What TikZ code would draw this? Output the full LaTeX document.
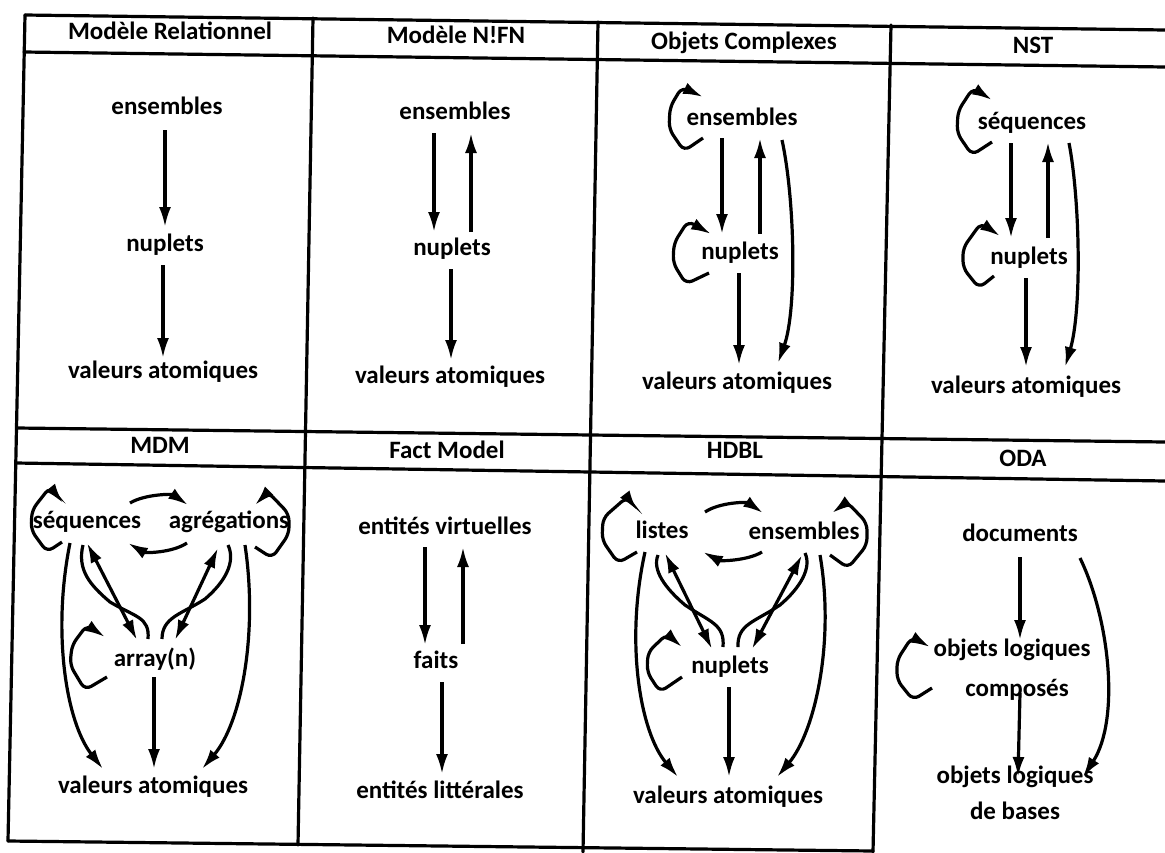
\documentclass[tikz,border=0pt]{standalone}
\usepackage{fontspec}
\setmainfont{Carlito}
\usetikzlibrary{arrows.meta}
\begin{document}
\begin{tikzpicture}[x=1pt,y=-1pt,
  >={Latex[length=20pt,width=12pt]},
  lbl/.style={font=\fontsize{25}{30}\selectfont\bfseries, inner sep=0pt, text height=18pt, text depth=6pt},
  arr/.style={line width=3.2pt,->},
  darr/.style={line width=3.2pt,<->},
  lnk/.style={line width=3.2pt},
  rule/.style={line width=3.2pt, line cap=round},
  lp/.style={line width=3.2pt,->,rounded corners=7pt}]
\useasboundingbox (0,0) rectangle (1165,852);
% grid
\draw[rule] (25,15) -- (1165,30);
\draw[rule] (24,52) -- (1165,67);
\draw[rule] (17,428) -- (1165,442);
\draw[rule] (16,463) -- (1165,481);
\draw[rule] (8,841) -- (873,851);
\draw[rule] (25,15) -- (8,841);
\draw[rule] (313,18) -- (298,845);
\draw[rule] (598,22) -- (583,852);
\draw[rule] (891,25) -- (873,852);
% headers
\node[lbl] (h1) at (170,33) {Modèle Relationnel};
\node[lbl] (h2) at (456,37) {Modèle N!FN};
\node[lbl] (h3) at (744,43) {Objets Complexes};
\node[lbl] (h4) at (1033,47) {NST};
\node[lbl] (h5) at (160,447) {MDM};
\node[lbl] (h6) at (447,452) {Fact Model};
\node[lbl] (h7) at (735,452) {HDBL};
\node[lbl] (h8) at (1023,460) {ODA};
% panel 1
\node[lbl] (p1e) at (167,108) {ensembles};
\node[lbl] (p1n) at (165,245) {nuplets};
\node[lbl] (p1v) at (163,372) {valeurs atomiques};
\draw[arr] ([shift={(-2,22)}]p1e.center) -- ([shift={(0,-18)}]p1n.center);
\draw[arr] ([shift={(-2,20)}]p1n.center) -- ([shift={(0,-14)}]p1v.center);
% panel 2
\node[lbl] (p2e) at (455,113) {ensembles};
\node[lbl] (p2n) at (452,249) {nuplets};
\node[lbl] (p2v) at (450,377) {valeurs atomiques};
\draw[arr] ([shift={(-21,20)}]p2e.center) -- ([shift={(-18,-17)}]p2n.center);
\draw[arr] ([shift={(19,-17)}]p2n.center) -- ([shift={(16,20)}]p2e.center);
\draw[arr] ([shift={(-1,20)}]p2n.center) -- ([shift={(1,-17)}]p2v.center);
% panel 3
\node[lbl] (p3e) at (742,119) {ensembles};
\node[lbl] (p3n) at (740,253) {nuplets};
\node[lbl] (p3v) at (737,383) {valeurs atomiques};
\draw[lp] ([shift={(-39,19)}]p3e.center) -- ([shift={(-58,32)}]p3e.center) -- ([shift={(-73,10)}]p3e.center) -- ([shift={(-72,-12)}]p3e.center) -- ([shift={(-60,-32)}]p3e.center) -- ([shift={(-39,-22)}]p3e.center);
\draw[arr] ([shift={(-20,19)}]p3e.center) -- ([shift={(-18,-19)}]p3n.center);
\draw[arr] ([shift={(20,-19)}]p3n.center) -- ([shift={(18,19)}]p3e.center);
\draw[arr] ([shift={(40,21)}]p3e.center) .. controls ([shift={(53,81)}]p3e.center) and ([shift={(55,191)}]p3e.center) .. ([shift={(41,-20)}]p3v.center);
\draw[arr] ([shift={(-1,20)}]p3n.center) -- ([shift={(2,-18)}]p3v.center);
\draw[lp] ([shift={(-31,20)}]p3n.center) -- ([shift={(-54,31)}]p3n.center) -- ([shift={(-67,10)}]p3n.center) -- ([shift={(-66,-10)}]p3n.center) -- ([shift={(-52,-32)}]p3n.center) -- ([shift={(-29,-19)}]p3n.center);
% panel 4
\node[lbl] (p4s) at (1032,123) {séquences};
\node[lbl] (p4n) at (1029,258) {nuplets};
\node[lbl] (p4v) at (1026,387) {valeurs atomiques};
\draw[lp] ([shift={(-40,19)}]p4s.center) -- ([shift={(-60,32)}]p4s.center) -- ([shift={(-75,10)}]p4s.center) -- ([shift={(-74,-12)}]p4s.center) -- ([shift={(-59,-35)}]p4s.center) -- ([shift={(-40,-23)}]p4s.center);
\draw[arr] ([shift={(-21,20)}]p4s.center) -- ([shift={(-18,-20)}]p4n.center);
\draw[arr] ([shift={(19,-20)}]p4n.center) -- ([shift={(16,19)}]p4s.center);
\draw[arr] ([shift={(37,20)}]p4s.center) .. controls ([shift={(48,77)}]p4s.center) and ([shift={(50,187)}]p4s.center) .. ([shift={(39,-20)}]p4v.center);
\draw[arr] ([shift={(-3,20)}]p4n.center) -- ([shift={(0,-20)}]p4v.center);
\draw[lp] ([shift={(-35,18)}]p4n.center) -- ([shift={(-50,30)}]p4n.center) -- ([shift={(-66,10)}]p4n.center) -- ([shift={(-66,-10)}]p4n.center) -- ([shift={(-48,-35)}]p4n.center) -- ([shift={(-29,-22)}]p4n.center);
% panel 5 MDM
\node[lbl] (p5s) at (87,522) {séquences};
\node[lbl] (p5a) at (229,522) {agrégations};
\node[lbl] (p5r) at (155,660) {array(n)};
\node[lbl] (p5v) at (153,787) {valeurs atomiques};
\draw[lp] ([shift={(-25,20)}]p5s.center) -- ([shift={(-40,30)}]p5s.center) -- ([shift={(-56,8)}]p5s.center) -- ([shift={(-55,-12)}]p5s.center) -- ([shift={(-37,-35)}]p5s.center) -- ([shift={(-24,-19)}]p5s.center);
\draw[lp] ([shift={(26,25)}]p5a.center) -- ([shift={(43,36)}]p5a.center) -- ([shift={(60,12)}]p5a.center) -- ([shift={(60,-8)}]p5a.center) -- ([shift={(39,-30)}]p5a.center) -- ([shift={(26,-17)}]p5a.center);
\draw[arr] ([shift={(43,-19)}]p5s.center) .. controls ([shift={(58,-28)}]p5s.center) and ([shift={(-57,-28)}]p5a.center) .. ([shift={(-41,-17)}]p5a.center);
\draw[arr] ([shift={(-42,21)}]p5a.center) .. controls ([shift={(-57,31)}]p5a.center) and ([shift={(58,31)}]p5s.center) .. ([shift={(41,21)}]p5s.center);
\draw[darr] ([shift={(0,21)}]p5s.center) -- ([shift={(-18,-20)}]p5r.center);
\draw[lnk] ([shift={(-4,23)}]p5s.center) .. controls ([shift={(-10,48)}]p5s.center) and ([shift={(3,63)}]p5s.center) .. ([shift={(-45,-58)}]p5r.center) .. controls ([shift={(-20,-43)}]p5r.center) and ([shift={(-5,-43)}]p5r.center) .. ([shift={(-7,-21)}]p5r.center);
\draw[darr] ([shift={(-11,26)}]p5a.center) -- ([shift={(20,-20)}]p5r.center);
\draw[lnk] ([shift={(-1,23)}]p5a.center) .. controls ([shift={(7,40)}]p5a.center) and ([shift={(-4,60)}]p5a.center) .. ([shift={(50,-61)}]p5r.center) .. controls ([shift={(27,-46)}]p5r.center) and ([shift={(7,-43)}]p5r.center) .. ([shift={(7,-21)}]p5r.center);
\draw[lp] ([shift={(-48,17)}]p5r.center) -- ([shift={(-70,30)}]p5r.center) -- ([shift={(-85,5)}]p5r.center) -- ([shift={(-83,-15)}]p5r.center) -- ([shift={(-68,-35)}]p5r.center) -- ([shift={(-50,-23)}]p5r.center);
\draw[arr] ([shift={(-17,21)}]p5s.center) .. controls ([shift={(-101,-155)}]p5v.center) and ([shift={(-87,-65)}]p5v.center) .. ([shift={(-50,-18)}]p5v.center);
\draw[arr] ([shift={(16,23)}]p5a.center) .. controls ([shift={(105,-155)}]p5v.center) and ([shift={(89,-65)}]p5v.center) .. ([shift={(49,-18)}]p5v.center);
\draw[arr] ([shift={(-1,17)}]p5r.center) -- ([shift={(1,-18)}]p5v.center);
% panel 6 Fact Model
\node[lbl] (p6e) at (445,528) {entités virtuelles};
\node[lbl] (p6f) at (436,662) {faits};
\node[lbl] (p6l) at (440,792) {entités littérales};
\draw[arr] ([shift={(-20,19)}]p6e.center) -- ([shift={(-11,-17)}]p6f.center);
\draw[arr] ([shift={(27,-18)}]p6f.center) -- ([shift={(18,19)}]p6e.center);
\draw[arr] ([shift={(6,20)}]p6f.center) -- ([shift={(2,-18)}]p6l.center);
% panel 7 HDBL
\node[lbl] (p7l) at (662,532) {listes};
\node[lbl] (p7e) at (804,533) {ensembles};
\node[lbl] (p7n) at (730,667) {nuplets};
\node[lbl] (p7v) at (728,797) {valeurs atomiques};
\draw[lp] ([shift={(-25,20)}]p7l.center) -- ([shift={(-44,31)}]p7l.center) -- ([shift={(-60,8)}]p7l.center) -- ([shift={(-59,-14)}]p7l.center) -- ([shift={(-35,-35)}]p7l.center) -- ([shift={(-25,-22)}]p7l.center);
\draw[lp] ([shift={(26,22)}]p7e.center) -- ([shift={(44,35)}]p7e.center) -- ([shift={(63,12)}]p7e.center) -- ([shift={(63,-10)}]p7e.center) -- ([shift={(43,-31)}]p7e.center) -- ([shift={(28,-20)}]p7e.center);
\draw[arr] ([shift={(43,-20)}]p7l.center) .. controls ([shift={(58,-30)}]p7l.center) and ([shift={(-57,-31)}]p7e.center) .. ([shift={(-41,-20)}]p7e.center);
\draw[arr] ([shift={(-42,19)}]p7e.center) .. controls ([shift={(-57,28)}]p7e.center) and ([shift={(58,29)}]p7l.center) .. ([shift={(41,20)}]p7l.center);
\draw[darr] ([shift={(3,21)}]p7l.center) -- ([shift={(-18,-18)}]p7n.center);
\draw[lnk] ([shift={(-4,23)}]p7l.center) .. controls ([shift={(-10,38)}]p7l.center) and ([shift={(3,56)}]p7l.center) .. ([shift={(-45,-62)}]p7n.center) .. controls ([shift={(-20,-45)}]p7n.center) and ([shift={(-5,-43)}]p7n.center) .. ([shift={(-7,-20)}]p7n.center);
\draw[darr] ([shift={(-2,22)}]p7e.center) -- ([shift={(22,-18)}]p7n.center);
\draw[lnk] ([shift={(1,20)}]p7e.center) .. controls ([shift={(8,35)}]p7e.center) and ([shift={(-4,55)}]p7e.center) .. ([shift={(50,-62)}]p7n.center) .. controls ([shift={(25,-45)}]p7n.center) and ([shift={(7,-43)}]p7n.center) .. ([shift={(8,-20)}]p7n.center);
\draw[lp] ([shift={(-48,10)}]p7n.center) -- ([shift={(-70,25)}]p7n.center) -- ([shift={(-83,5)}]p7n.center) -- ([shift={(-82,-15)}]p7n.center) -- ([shift={(-63,-33)}]p7n.center) -- ([shift={(-48,-20)}]p7n.center);
\draw[arr] ([shift={(-17,20)}]p7l.center) .. controls ([shift={(-103,-155)}]p7v.center) and ([shift={(-88,-65)}]p7v.center) .. ([shift={(-50,-20)}]p7v.center);
\draw[arr] ([shift={(16,22)}]p7e.center) .. controls ([shift={(107,-155)}]p7v.center) and ([shift={(87,-65)}]p7v.center) .. ([shift={(49,-20)}]p7v.center);
\draw[arr] ([shift={(-1,20)}]p7n.center) -- ([shift={(1,-20)}]p7v.center);
% panel 8 ODA
\node[lbl] (p8d) at (1020,535) {documents};
\node[lbl] (p8o) at (1012,650) {objets logiques};
\node[lbl] (p8c) at (1017,690) {composés};
\node[lbl] (p8b) at (1015,777) {objets logiques};
\node[lbl] (p8s) at (1015,813) {de bases};
\draw[arr] ([shift={(0,22)}]p8d.center) -- ([shift={(8,-10)}]p8o.center);
\draw[arr] ([shift={(3,3)}]p8c.center) -- ([shift={(3,0)}]p8b.center);
\draw[arr] ([shift={(60,23)}]p8d.center) .. controls ([shift={(90,85)}]p8d.center) and ([shift={(105,-57)}]p8b.center) .. ([shift={(68,0)}]p8b.center);
\draw[lp] ([shift={(-80,38)}]p8o.center) -- ([shift={(-99,50)}]p8o.center) -- ([shift={(-115,30)}]p8o.center) -- ([shift={(-115,10)}]p8o.center) -- ([shift={(-100,-13)}]p8o.center) -- ([shift={(-82,-3)}]p8o.center);
\end{tikzpicture}
\end{document}
